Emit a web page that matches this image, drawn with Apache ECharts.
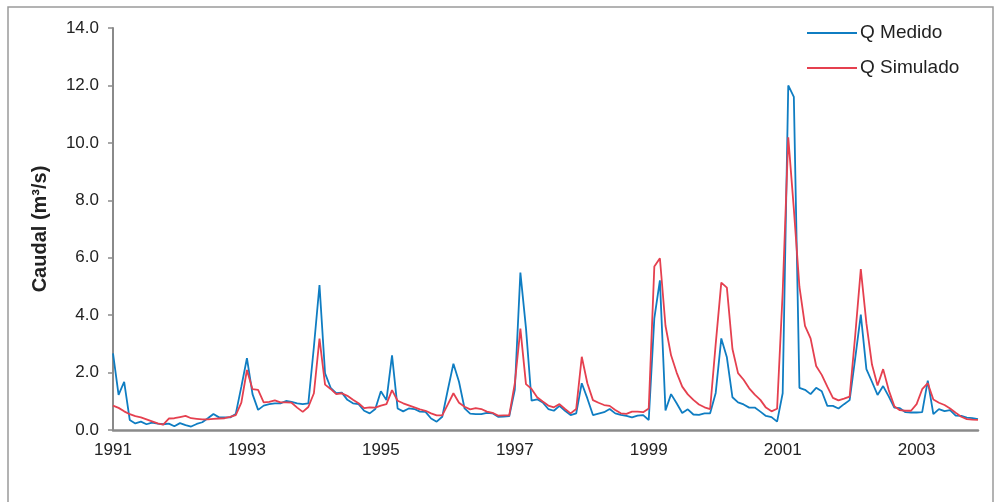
<!DOCTYPE html>
<html>
<head>
<meta charset="utf-8">
<script src="https://cdn.jsdelivr.net/npm/echarts@6/dist/echarts.min.js"></script>
<style>html,body{margin:0;padding:0;background:#fff}#c{width:995px;height:502px}</style>
</head>
<body>
<div id="c"></div>
<script>
const startYear = 1991;
const years = [1991,1992,1993,1994,1995,1996,1997,1998,1999,2000,2001,2002,2003];
const tickYears = ['1991','1993','1995','1997','1999','2001','2003'];
const yTicks = [0,2,4,6,8,10,12,14];

const qMedido = [
2.67,1.22,1.68,0.35,0.23,0.29,0.20,0.26,0.22,0.20,0.22,0.13,
0.24,0.17,0.12,0.21,0.27,0.41,0.56,0.44,0.44,0.44,0.56,1.51,
2.50,1.25,0.70,0.85,0.90,0.93,0.93,1.01,0.98,0.93,0.90,0.93,
2.90,5.05,1.97,1.47,1.28,1.30,1.05,0.93,0.90,0.67,0.58,0.73,
1.35,1.04,2.60,0.75,0.65,0.75,0.73,0.64,0.63,0.40,0.29,0.46,
1.40,2.31,1.68,0.75,0.57,0.55,0.55,0.60,0.58,0.46,0.47,0.48,
1.40,5.48,3.55,1.02,1.07,0.96,0.73,0.67,0.84,0.67,0.52,0.58,
1.63,1.10,0.52,0.57,0.62,0.73,0.58,0.53,0.49,0.44,0.50,0.52,
0.35,3.89,5.21,0.68,1.25,0.93,0.59,0.72,0.54,0.53,0.58,0.58,
1.29,3.19,2.53,1.14,0.96,0.89,0.78,0.78,0.64,0.49,0.45,0.29,
1.28,12.0,11.6,1.47,1.40,1.25,1.47,1.35,0.84,0.84,0.75,0.90,
1.04,2.50,4.02,2.12,1.68,1.22,1.53,1.17,0.78,0.76,0.62,0.61,
0.61,0.62,1.72,0.55,0.73,0.66,0.69,0.50,0.49,0.43,0.41,0.38];

const qSimulado = [
0.85,0.77,0.65,0.55,0.48,0.44,0.37,0.30,0.23,0.19,0.40,0.41,
0.45,0.49,0.41,0.39,0.37,0.37,0.39,0.40,0.41,0.46,0.52,0.95,
2.09,1.42,1.40,0.96,0.98,1.03,0.96,0.96,0.95,0.78,0.63,0.80,
1.28,3.18,1.58,1.43,1.25,1.28,1.19,1.05,0.93,0.76,0.79,0.78,
0.85,0.90,1.39,1.02,0.93,0.86,0.79,0.72,0.67,0.58,0.51,0.51,
0.89,1.28,0.95,0.81,0.72,0.76,0.73,0.64,0.60,0.50,0.51,0.51,
1.62,3.53,1.60,1.43,1.14,0.99,0.85,0.79,0.90,0.73,0.58,0.73,
2.55,1.63,1.04,0.95,0.87,0.84,0.70,0.58,0.56,0.64,0.64,0.62,
0.75,5.69,5.98,3.63,2.60,2.00,1.51,1.24,1.05,0.89,0.79,0.73,
3.00,5.13,4.96,2.82,1.98,1.75,1.45,1.23,1.05,0.78,0.65,0.74,
4.80,10.19,7.70,4.99,3.63,3.19,2.23,1.92,1.51,1.12,1.03,1.09,
1.16,3.30,5.60,3.72,2.28,1.55,2.12,1.39,0.83,0.69,0.67,0.67,
0.90,1.42,1.63,1.06,0.95,0.87,0.75,0.60,0.46,0.38,0.36,0.35];

const categories = [];
years.forEach(y => { for (let m = 1; m <= 12; m++) categories.push(y + '-' + (m < 10 ? '0' + m : m)); });

const FONT = '"Liberation Sans", Arial, sans-serif';
const chart = echarts.init(document.getElementById('c'), null, {renderer: 'canvas'});
chart.setOption({
  animation: false,
  backgroundColor: '#ffffff',
  grid: {left: 113, right: 17, top: 28, bottom: 72, containLabel: false},
  legend: {
    orient: 'vertical', left: 807, top: 23, padding: 0,
    icon: 'rect', itemWidth: 50, itemHeight: 2, itemGap: 15,
    textStyle: {fontFamily: FONT, fontSize: 19, color: '#222', lineHeight: 20, padding: [0,0,0,-2]},
    data: ['Q Medido', 'Q Simulado']
  },
  xAxis: {
    type: 'category', boundaryGap: false, data: categories,
    axisLine: {lineStyle: {color: '#8a8a8a', width: 2.5}},
    axisTick: {show: false},
    splitLine: {show: false},
    axisLabel: {
      interval: (idx, val) => tickYears.indexOf(val.slice(0,4)) >= 0 && val.slice(5) === '01',
      formatter: (val) => val.slice(0,4),
      fontFamily: FONT, fontSize: 17, color: '#222', margin: 12
    }
  },
  yAxis: {
    type: 'value', min: yTicks[0], max: yTicks[yTicks.length-1], interval: 2,
    axisLine: {show: true, lineStyle: {color: '#8a8a8a', width: 2}},
    axisTick: {show: true, length: 5, lineStyle: {color: '#8a8a8a', width: 1.5}},
    splitLine: {show: false},
    axisLabel: {formatter: v => v.toFixed(1), fontFamily: FONT, fontSize: 17, color: '#222', margin: 14}
  },
  graphic: [
    {type: 'rect', shape: {x: 8, y: 7, width: 985, height: 520}, style: {fill: 'none', stroke: '#9a9a9a', lineWidth: 1.5}, silent: true},
    {type: 'text', x: 40, y: 229, rotation: Math.PI/2,
     style: {text: 'Caudal (m³/s)', font: 'bold 20px ' + FONT, fill: '#222', align: 'center', verticalAlign: 'middle'}}
  ],
  series: [
    {name: 'Q Medido', type: 'line', data: qMedido, showSymbol: false, symbol: 'none',
     lineStyle: {color: '#0F7DC2', width: 1.8}, itemStyle: {color: '#0F7DC2'}},
    {name: 'Q Simulado', type: 'line', data: qSimulado, showSymbol: false, symbol: 'none',
     lineStyle: {color: '#E5404F', width: 1.8}, itemStyle: {color: '#E5404F'}}
  ]
});
</script>
</body>
</html>
